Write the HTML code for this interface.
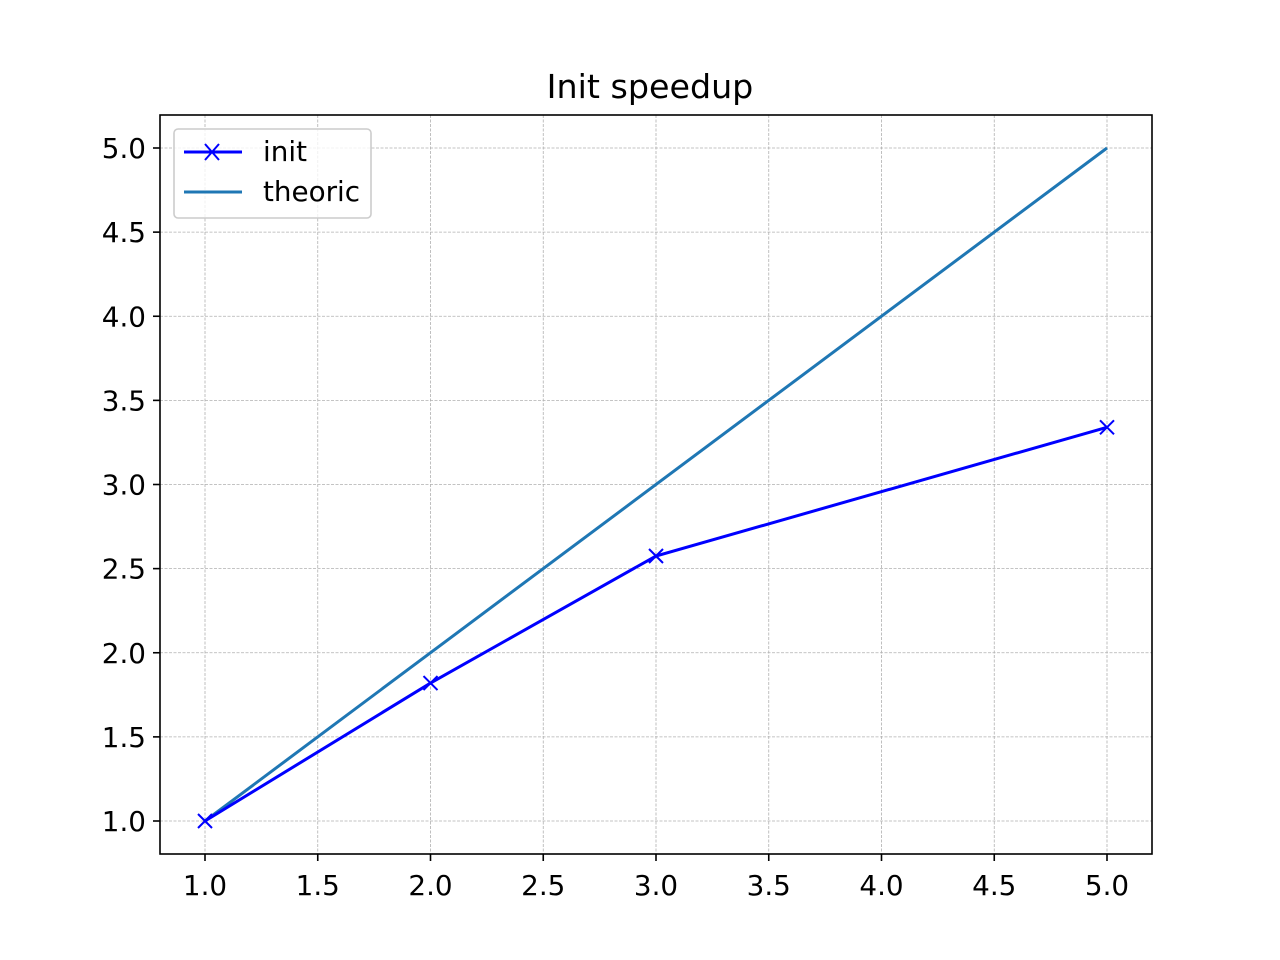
<!DOCTYPE html>
<html><head><meta charset="utf-8"><style>
html,body{margin:0;padding:0;background:#fff;}
svg{display:block;font-family:"DejaVu Sans","Liberation Sans",sans-serif;}
.tk{font-size:27.8px;}
</style></head><body>
<svg id="chart" width="1280" height="960">
<rect width="1280" height="960" fill="#fff"/>
<g id="grid"></g><g id="ticks"></g><g id="series"></g>
<rect x="160" y="115" width="992" height="739" fill="none" stroke="#000" stroke-width="1.6"/>
<text x="650" y="98" text-anchor="middle" style="font-size:33.3px">Init speedup</text>
<g>
<rect x="174" y="129" width="197" height="89" rx="4" fill="#fff" fill-opacity="0.8" stroke="#ccc" stroke-width="1.6"/>
<g>
<line x1="184" y1="152" x2="242" y2="152" stroke="#0000ff" stroke-width="3"/>
<path d="M205 144 L219 160 M219 144 L205 160" stroke="#0000ff" stroke-width="2"/>
<text x="263" y="161" class="tk">init</text></g>
<g>
<line x1="184" y1="192" x2="242" y2="192" stroke="#1f77b4" stroke-width="3"/>
<text x="263" y="201" class="tk">theoric</text></g>
</g>
</svg>
<script>
const xTicks=[1.0,1.5,2.0,2.5,3.0,3.5,4.0,4.5,5.0];
const yTicks=[1.0,1.5,2.0,2.5,3.0,3.5,4.0,4.5,5.0];
const initX=[1,2,3,5];
const initY=[1.0,1.82,2.575,3.34];
const theoricX=[1,5];
const theoricY=[1,5];
const NS='http://www.w3.org/2000/svg';
function xs(v){return 205+(v-1)*225.5;}
function ys(v){return 821-(v-1)*168.25;}
function mk(t,a,p){const e=document.createElementNS(NS,t);for(const k in a)e.setAttribute(k,a[k]);p.appendChild(e);return e;}
const grid=document.getElementById('grid'),ticks=document.getElementById('ticks'),ser=document.getElementById('series');
xTicks.forEach(v=>{const x=xs(v);
 const g=mk('line',{x1:x,x2:x,y1:115,y2:854,stroke:'#b0b0b0','stroke-width':0.8,'stroke-dasharray':'3,1.5'},grid);
 
 mk('line',{x1:x,x2:x,y1:854,y2:861,stroke:'#000','stroke-width':1.6},ticks);
 const t=mk('text',{x:x,y:895,'text-anchor':'middle','class':'tk'},ticks);t.textContent=v.toFixed(1);
 });
yTicks.forEach(v=>{const y=ys(v);
 const g=mk('line',{x1:160,x2:1152,y1:y,y2:y,stroke:'#b0b0b0','stroke-width':0.8,'stroke-dasharray':'3,1.5'},grid);
 
 mk('line',{x1:153,x2:160,y1:y,y2:y,stroke:'#000','stroke-width':1.6},ticks);
 const t=mk('text',{x:146,y:y+10,'text-anchor':'end','class':'tk'},ticks);t.textContent=v.toFixed(1);
 });
const th=mk('polyline',{points:theoricX.map((x,i)=>xs(x)+','+ys(theoricY[i])).join(' '),fill:'none',stroke:'#1f77b4','stroke-width':3},ser);

const il=mk('polyline',{points:initX.map((x,i)=>xs(x)+','+ys(initY[i])).join(' '),fill:'none',stroke:'#0000ff','stroke-width':3},ser);

initX.forEach((x,i)=>{const cx=xs(x),cy=ys(initY[i]);
 const m=mk('path',{d:`M${cx-7} ${cy-7}L${cx+7} ${cy+7}M${cx+7} ${cy-7}L${cx-7} ${cy+7}`,stroke:'#0000ff','stroke-width':2},ser);
 });
</script>
</body></html>
